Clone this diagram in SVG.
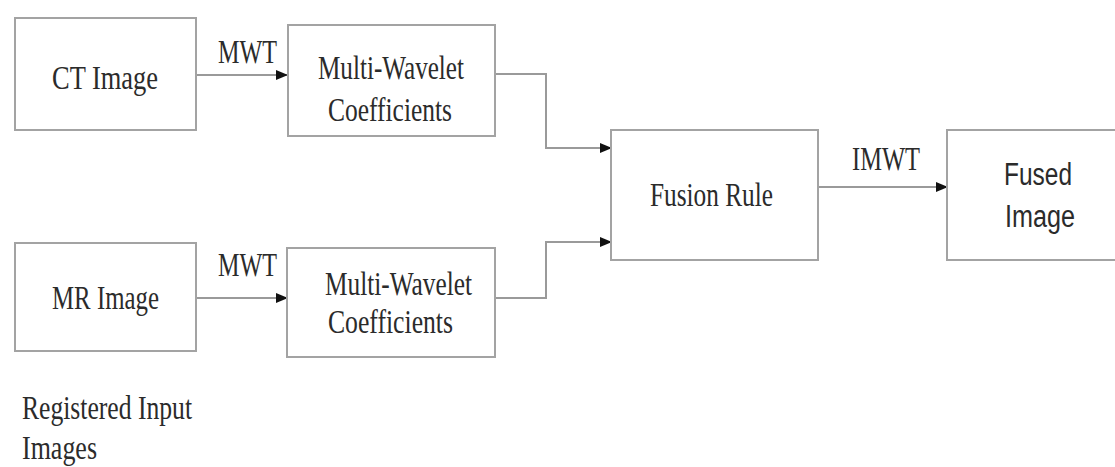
<svg xmlns="http://www.w3.org/2000/svg" width="1115" height="467" viewBox="0 0 1115 467">
  <defs>
    <style>
      .box { fill: #ffffff; stroke: #a3a3a3; stroke-width: 2; }
      .conn { fill: none; stroke: #9a9a9a; stroke-width: 2; }
      .t { font-family: "Liberation Serif", "Times New Roman", serif; font-size: 33px; fill: #2b2b2b; }
      .s { font-family: "Liberation Sans", Arial, sans-serif; font-size: 31px; fill: #2b2b2b; }
    </style>
    <marker id="arr" markerUnits="userSpaceOnUse" markerWidth="12" markerHeight="10" refX="11" refY="5" orient="auto">
      <path d="M0,0 L12,5 L0,10 Z" fill="#111111"/>
    </marker>
  </defs>
  <rect width="1115" height="467" fill="#ffffff"/>

  <g id="connectors">
    <line class="conn" x1="196" y1="75" x2="287" y2="75" marker-end="url(#arr)"/>
    <line class="conn" x1="196" y1="298" x2="287" y2="298" marker-end="url(#arr)"/>
    <polyline class="conn" points="495,74 546,74 546,148 611,148" marker-end="url(#arr)"/>
    <polyline class="conn" points="495,298 546,298 546,242 611,242" marker-end="url(#arr)"/>
    <line class="conn" x1="818" y1="187" x2="947" y2="187" marker-end="url(#arr)"/>
    <text class="t" x="218" y="63" textLength="59" lengthAdjust="spacingAndGlyphs">MWT</text>
    <text class="t" x="218" y="276" textLength="59" lengthAdjust="spacingAndGlyphs">MWT</text>
    <text class="t" x="852" y="170" textLength="68" lengthAdjust="spacingAndGlyphs">IMWT</text>
  </g>

  <g id="ct-image">
    <rect class="box" x="15" y="18" width="181" height="112"/>
    <text class="t" x="52" y="89" textLength="106" lengthAdjust="spacingAndGlyphs">CT  Image</text>
  </g>

  <g id="mwc-top">
    <rect class="box" x="288" y="25" width="207" height="111"/>
    <text class="t" x="318" y="79" textLength="146" lengthAdjust="spacingAndGlyphs">Multi-Wavelet</text>
    <text class="t" x="328" y="121" textLength="124" lengthAdjust="spacingAndGlyphs">Coefficients</text>
  </g>

  <g id="mr-image">
    <rect class="box" x="15" y="243" width="181" height="108"/>
    <text class="t" x="52" y="309" textLength="107" lengthAdjust="spacingAndGlyphs">MR Image</text>
  </g>

  <g id="mwc-bottom">
    <rect class="box" x="287" y="248" width="208" height="109"/>
    <text class="t" x="325" y="295" textLength="147" lengthAdjust="spacingAndGlyphs">Multi-Wavelet</text>
    <text class="t" x="328" y="333" textLength="125" lengthAdjust="spacingAndGlyphs">Coefficients</text>
  </g>

  <g id="fusion-rule">
    <rect class="box" x="611" y="130" width="207" height="130"/>
    <text class="t" x="650" y="206" textLength="123" lengthAdjust="spacingAndGlyphs">Fusion Rule</text>
  </g>

  <g id="fused-image">
    <rect class="box" x="947" y="130" width="180" height="130"/>
    <text class="s" x="1004" y="185" textLength="68" lengthAdjust="spacingAndGlyphs">Fused</text>
    <text class="s" x="1005" y="227" textLength="70" lengthAdjust="spacingAndGlyphs">Image</text>
  </g>

  <g id="registered-label">
    <text class="t" x="22" y="419" textLength="170" lengthAdjust="spacingAndGlyphs">Registered Input</text>
    <text class="t" x="22" y="459" textLength="75" lengthAdjust="spacingAndGlyphs">Images</text>
  </g>
</svg>
